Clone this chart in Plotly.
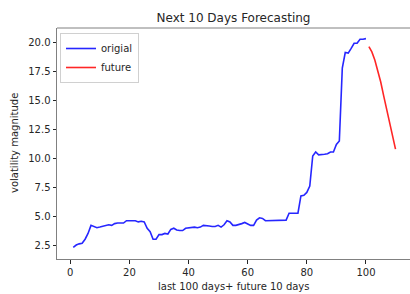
import plotly.graph_objects as go

orig_x = list(range(1, 101))
orig_y = [2.3, 2.5, 2.6, 2.65, 3.0, 3.5, 4.2, 4.1, 4.0, 4.05,
          4.1, 4.2, 4.25, 4.2, 4.35, 4.4, 4.4, 4.4, 4.6, 4.6,
          4.6, 4.6, 4.5, 4.55, 4.5, 3.95, 3.65, 3.0, 3.0, 3.4,
          3.4, 3.5, 3.45, 3.85, 3.95, 3.8, 3.75, 3.75, 3.95, 4.0,
          4.05, 4.05, 4.0, 4.05, 4.2, 4.2, 4.15, 4.1, 4.1, 4.2,
          4.05, 4.25, 4.6, 4.5, 4.2, 4.2, 4.25, 4.35, 4.45, 4.35,
          4.2, 4.2, 4.65, 4.85, 4.8, 4.6, 4.6, 4.6, 4.6, 4.6,
          4.65, 4.6, 4.65, 5.25, 5.25, 5.2, 5.25, 6.75, 6.8, 7.05,
          7.6, 10.2, 10.55, 10.3, 10.3, 10.35, 10.4, 10.55, 10.55, 11.2,
          11.5, 17.8, 19.15, 19.1, 19.5, 19.95, 19.95, 20.3, 20.3, 20.35]

future_x = list(range(101, 111))
future_y = [19.65, 19.2, 18.5, 17.6, 16.6, 15.4, 14.2, 12.95, 11.8, 10.8]

x_ticks = [0, 20, 40, 60, 80, 100]
y_ticks = [2.5, 5.0, 7.5, 10.0, 12.5, 15.0, 17.5, 20.0]

FONT = "DejaVu Sans"
TXT = "#262626"

W, H = 410, 294
L, R, T, B = 57, 0, 28, 35
PW, PH = W - L - R, H - T - B

fig = go.Figure()
fig.add_trace(go.Scatter(x=orig_x, y=orig_y, mode="lines", name="origial",
                         line=dict(color="rgba(0,0,255,0.85)", width=1.6)))
fig.add_trace(go.Scatter(x=future_x, y=future_y, mode="lines", name="future",
                         line=dict(color="rgba(255,0,0,0.85)", width=1.6)))

fig.update_layout(
    width=W, height=H,
    margin=dict(l=L, r=R, t=T, b=B, autoexpand=False),
    paper_bgcolor="white", plot_bgcolor="white",
    font=dict(family=FONT, size=10, color=TXT),
    title=dict(text="Next 10 Days Forecasting", x=0.5, xref="paper", xanchor="center",
               y=1 - 18 / H, yref="container", yanchor="middle",
               font=dict(family=FONT, size=12, color=TXT)),
    showlegend=True,
    legend=dict(x=3 / PW, y=1 - 5 / PH, xanchor="left", yanchor="top",
                bgcolor="rgba(255,255,255,0.8)", bordercolor="#d0d0d0", borderwidth=1,
                font=dict(family=FONT, size=10, color=TXT),
                itemwidth=30, tracegroupgap=0),
    xaxis=dict(range=[-4.5, 114.9], tickvals=x_ticks, ticktext=[str(v) for v in x_ticks],
               automargin=False,
               showgrid=False, zeroline=False, showline=True, linecolor="#808080", linewidth=1,
               ticks="outside", ticklen=3.5, tickcolor=TXT, tickwidth=1),
    yaxis=dict(range=[1.29, 21.27], tickvals=y_ticks, ticktext=[f"{v:.1f}" for v in y_ticks],
               automargin=False,
               showgrid=False, zeroline=False, showline=True, linecolor="#808080", linewidth=1,
               ticks="outside", ticklen=3.5, tickcolor=TXT, tickwidth=1),
)
fig.add_shape(type="line", xref="paper", yref="paper", x0=0, x1=1, y0=1, y1=1,
              line=dict(color="#808080", width=1))
fig.add_annotation(text="last 100 days+ future 10 days", xref="paper", yref="paper",
                   x=(233.5 - L) / PW, y=-(286 - (H - B)) / PH, xanchor="center", yanchor="middle",
                   showarrow=False, font=dict(family=FONT, size=10, color=TXT))
fig.add_annotation(text="volatility magnitude", xref="paper", yref="paper",
                   x=(14 - L) / PW, y=1 - (143 - T) / PH, xanchor="center", yanchor="middle",
                   textangle=-90, showarrow=False, font=dict(family=FONT, size=10, color=TXT))

fig.write_html("out.html", config={"displayModeBar": False},
               post_script="document.body.style.margin='0';document.body.style.overflow='hidden';")
